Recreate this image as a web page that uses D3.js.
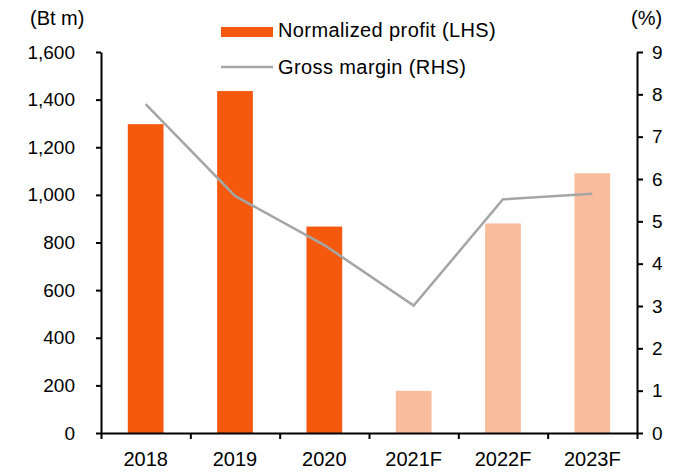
<!DOCTYPE html>
<html>
<head>
<meta charset="utf-8">
<script src="https://cdn.jsdelivr.net/npm/d3@7"></script>
<style>
  body { margin: 0; background: #fff; }
  svg { font-family: "Liberation Sans", Arial, sans-serif; }
</style>
</head>
<body>
<div id="chart"></div>
<script>
// ---------- Data ----------
const years = ["2018", "2019", "2020", "2021F", "2022F", "2023F"];
const profit = [1297, 1436, 867, 177, 880, 1091];
const margin = [7.77, 5.6, 4.44, 3.01, 5.52, 5.65];
const forecast = [false, false, false, true, true, true];
const leftTicks = [0, 200, 400, 600, 800, 1000, 1200, 1400, 1600];
const rightTicks = [0, 1, 2, 3, 4, 5, 6, 7, 8, 9];

// ---------- Chart ----------
const width = 695, height = 472;
const m = {top: 52, right: 58, bottom: 39, left: 101};

const svg = d3.select("#chart").append("svg")
  .attr("width", width).attr("height", height);

const x = d3.scaleBand()
  .domain(years)
  .range([m.left, width - m.right])
  .paddingInner(0.6).paddingOuter(0.3);

// band boundaries for the x tick marks
const xb = d3.scaleLinear()
  .domain([0, years.length])
  .range([m.left, width - m.right]);

const yL = d3.scaleLinear().domain([0, 1600]).range([height - m.bottom, m.top]);
const yR = d3.scaleLinear().domain([0, 9]).range([height - m.bottom, m.top]);

// bars
svg.append("g").selectAll("rect")
  .data(years)
  .join("rect")
  .attr("x", d => x(d))
  .attr("width", x.bandwidth())
  .attr("y", (d, i) => yL(profit[i]))
  .attr("height", (d, i) => yL(0) - yL(profit[i]))
  .attr("fill", (d, i) => forecast[i] ? "#F9BD9D" : "#F4590D");

// line
const line = d3.line()
  .x((d, i) => x(years[i]) + x.bandwidth() / 2)
  .y(d => yR(d));

svg.append("path")
  .datum(margin)
  .attr("d", line)
  .attr("fill", "none")
  .attr("stroke", "#A5A5A5")
  .attr("stroke-width", 2.5);

// axes
const styleAxis = size => g => {
  g.select(".domain").attr("stroke", "#000").attr("stroke-width", 2);
  g.selectAll(".tick line").attr("stroke", "#000").attr("stroke-width", 2);
  g.selectAll("text").attr("fill", "#000").style("font-size", size);
};

svg.append("g")
  .attr("transform", `translate(${m.left},0)`)
  .call(d3.axisLeft(yL).tickValues(leftTicks).tickSize(5).tickSizeOuter(0)
    .tickPadding(21).tickFormat(d3.format(",")))
  .call(styleAxis("19px"));

svg.append("g")
  .attr("transform", `translate(${width - m.right},0)`)
  .call(d3.axisRight(yR).tickValues(rightTicks).tickSize(6).tickSizeOuter(0).tickPadding(9))
  .call(styleAxis("19px"));

const xAxis = svg.append("g")
  .attr("transform", `translate(0,${height - m.bottom})`);
xAxis.call(d3.axisBottom(xb).tickValues(d3.range(years.length + 1)).tickSize(6)
    .tickSizeOuter(0).tickFormat(""))
  .call(styleAxis("20px"));
xAxis.selectAll(".lbl")
  .data(years)
  .join("text")
  .attr("class", "lbl")
  .attr("x", d => x(d) + x.bandwidth() / 2)
  .attr("y", 33)
  .attr("text-anchor", "middle")
  .attr("fill", "#000")
  .style("font-size", "20px")
  .text(d => d);

// axis titles
svg.append("text").attr("x", 30).attr("y", 25)
  .style("font-size", "20px").text("(Bt m)");
svg.append("text").attr("x", 631).attr("y", 25)
  .style("font-size", "20px").text("(%)");

// legend
const lg = svg.append("g").style("font-size", "20px").style("letter-spacing", "0.4px");
lg.append("rect").attr("x", 221).attr("y", 27).attr("width", 52).attr("height", 10)
  .attr("fill", "#F4590D");
lg.append("text").attr("x", 278).attr("y", 37)
  .text("Normalized profit (LHS)");
lg.append("line").attr("x1", 221).attr("x2", 273).attr("y1", 67).attr("y2", 67)
  .attr("stroke", "#A5A5A5").attr("stroke-width", 2.5);
lg.append("text").attr("x", 278).attr("y", 74)
  .text("Gross margin (RHS)");
</script>
</body>
</html>
